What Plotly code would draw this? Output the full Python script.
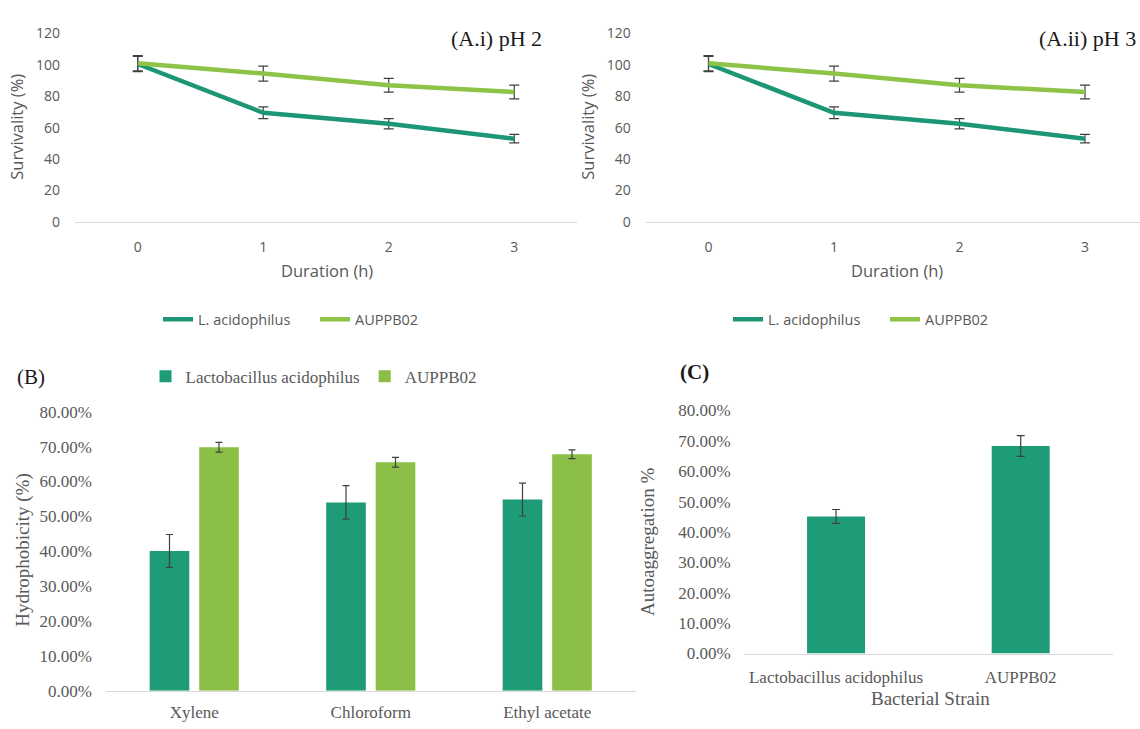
import plotly.graph_objects as go

# ---------------- data ----------------
hours = [0, 1, 2, 3]
la_ph2 = [100.5, 69.5, 62.5, 53.0]
la_ph2_err = [4.9, 3.7, 3.2, 2.7]
au_ph2 = [101.0, 94.4, 87.0, 82.7]
au_ph2_err = [4.9, 4.8, 4.4, 4.4]

la_ph3 = [100.5, 69.5, 62.5, 53.0]
la_ph3_err = [4.9, 3.7, 3.2, 2.7]
au_ph3 = [101.0, 94.4, 87.0, 82.7]
au_ph3_err = [4.9, 4.8, 4.4, 4.4]

solvents = ["Xylene", "Chloroform", "Ethyl acetate"]
hyd_la = [0.401, 0.540, 0.548]
hyd_la_err = [0.047, 0.048, 0.047]
hyd_au = [0.698, 0.655, 0.678]
hyd_au_err = [0.014, 0.014, 0.0125]

strains = ["Lactobacillus acidophilus", "AUPPB02"]
autoagg = [0.451, 0.683]
autoagg_err = [0.023, 0.034]

surv_ticks = [0, 20, 40, 60, 80, 100, 120]

# ---------------- styles ----------------
W, H = 1140, 729
TEAL_LINE = "#1c9674"
GREEN_LINE = "#8dc447"
TEAL_BAR = "#1e9b77"
GREEN_BAR = "#8cbf45"
ERR = "#404040"
GRAY = "#595959"
SANS = "Open Sans"
SERIF = "Liberation Serif"


def px(x):
    return x / W


def py(y):
    return 1 - y / H


fig = go.Figure()

# Panel A.i
fig.add_trace(go.Scatter(x=hours, y=la_ph2, mode="lines", name="L. acidophilus",
                         line=dict(color=TEAL_LINE, width=4.5),
                         error_y=dict(type="data", array=la_ph2_err, color=ERR, thickness=1.2, width=5),
                         xaxis="x", yaxis="y", legend="legend"))
fig.add_trace(go.Scatter(x=hours, y=au_ph2, mode="lines", name="AUPPB02",
                         line=dict(color=GREEN_LINE, width=4.5),
                         error_y=dict(type="data", array=au_ph2_err, color=ERR, thickness=1.2, width=5),
                         xaxis="x", yaxis="y", legend="legend"))
# Panel A.ii
fig.add_trace(go.Scatter(x=hours, y=la_ph3, mode="lines", name="L. acidophilus",
                         line=dict(color=TEAL_LINE, width=4.5),
                         error_y=dict(type="data", array=la_ph3_err, color=ERR, thickness=1.2, width=5),
                         xaxis="x2", yaxis="y2", legend="legend2"))
fig.add_trace(go.Scatter(x=hours, y=au_ph3, mode="lines", name="AUPPB02",
                         line=dict(color=GREEN_LINE, width=4.5),
                         error_y=dict(type="data", array=au_ph3_err, color=ERR, thickness=1.2, width=5),
                         xaxis="x2", yaxis="y2", legend="legend2"))
# Panel B
fig.add_trace(go.Bar(x=solvents, y=hyd_la, name="Lactobacillus acidophilus",
                     marker=dict(color=TEAL_BAR, line=dict(width=0)),
                     error_y=dict(type="data", array=hyd_la_err, color=ERR, thickness=1.2, width=3.5),
                     xaxis="x3", yaxis="y3", legend="legend3"))
fig.add_trace(go.Bar(x=solvents, y=hyd_au, name="AUPPB02",
                     marker=dict(color=GREEN_BAR, line=dict(width=0)),
                     error_y=dict(type="data", array=hyd_au_err, color=ERR, thickness=1.2, width=3.5),
                     xaxis="x3", yaxis="y3", legend="legend3"))
# Panel C
fig.add_trace(go.Bar(x=strains, y=autoagg, name="Autoaggregation",
                     marker=dict(color=TEAL_BAR, line=dict(width=0)),
                     error_y=dict(type="data", array=autoagg_err, color=ERR, thickness=1.2, width=4),
                     width=0.314, showlegend=False,
                     xaxis="x4", yaxis="y4"))

sans_tick = dict(family=SANS, size=14, color=GRAY)
serif_tick = dict(family=SERIF, size=17, color=GRAY)

xA = dict(range=[-0.5, 3.5], tickvals=hours, showgrid=False, zeroline=False,
          showline=True, linecolor="#d9d9d9", linewidth=1, ticks="", tickfont=sans_tick,
          ticklabelstandoff=12, fixedrange=True)
yA = dict(range=[0, 120], tickvals=surv_ticks, showgrid=False, zeroline=False,
          showline=False, ticks="", tickfont=sans_tick, ticklabelstandoff=14, fixedrange=True)

legend_common = dict(orientation="h", yanchor="middle", bgcolor="rgba(0,0,0,0)",
                     itemclick=False, itemdoubleclick=False)

layout = dict(
    width=W, height=H, autosize=False,
    margin=dict(l=0, r=0, t=0, b=0),
    paper_bgcolor="white", plot_bgcolor="white",
    barmode="group", bargap=0.439, bargroupgap=0.2,
    xaxis=dict(xA, domain=[px(75), px(577)], anchor="y"),
    yaxis=dict(yA, domain=[py(218), py(24)], anchor="x"),
    xaxis2=dict(xA, domain=[px(645.75), 1.0], anchor="y2",
                range=[-0.5, (1140 - 708.5) / 125.5]),
    yaxis2=dict(yA, domain=[py(218), py(24)], anchor="x2"),
    xaxis3=dict(type="category", range=[-0.5, 2.5], domain=[px(106), px(635.5)], anchor="y3",
                showgrid=False, zeroline=False, showline=True, linecolor="#d9d9d9", linewidth=1,
                ticks="", tickfont=serif_tick, ticklabelstandoff=6, fixedrange=True),
    yaxis3=dict(range=[0, 0.8], dtick=0.1, tickformat=".2%", domain=[py(700), py(413)], anchor="x3",
                showgrid=False, zeroline=False, showline=False, ticks="", tickfont=serif_tick,
                ticklabelstandoff=13, fixedrange=True),
    xaxis4=dict(type="category", range=[-0.5, 1.5], domain=[px(743.75), px(1113)], anchor="y4",
                showgrid=False, zeroline=False, showline=True, linecolor="#d9d9d9", linewidth=1,
                ticks="", tickfont=serif_tick, ticklabelstandoff=8, fixedrange=True),
    yaxis4=dict(range=[0, 0.8], dtick=0.1, tickformat=".2%", domain=[py(661.7), py(411.7)], anchor="x4",
                showgrid=False, zeroline=False, showline=False, ticks="", tickfont=serif_tick,
                ticklabelstandoff=12, fixedrange=True),
    legend=dict(legend_common, x=px(158), xanchor="left", y=py(318),
                entrywidth=112, entrywidthmode="pixels",
                font=dict(family=SANS, size=14.5, color=GRAY)),
    legend2=dict(legend_common, x=px(728), xanchor="left", y=py(318),
                 entrywidth=112, entrywidthmode="pixels",
                 font=dict(family=SANS, size=14.5, color=GRAY)),
    legend3=dict(legend_common, x=px(314), xanchor="center", y=py(377),
                 font=dict(family=SERIF, size=17, color=GRAY)),
    showlegend=True,
)
fig.update_layout(**layout)


def ann(text, x, y, font, xanchor="center", angle=0):
    fig.add_annotation(text=text, x=px(x), y=py(y), xref="paper", yref="paper",
                       xanchor=xanchor, yanchor="middle", showarrow=False,
                       textangle=angle, font=font)


title_font = dict(family=SERIF, size=22, color="#1a1a1a")
axis_sans = dict(family=SANS, size=16.5, color=GRAY)
axis_serif = dict(family=SERIF, size=19, color=GRAY)

ann("(A.i) pH 2", 449, 29, title_font, xanchor="left")
ann("(A.ii) pH 3", 1037, 29, title_font, xanchor="left")
ann("Survivality (%)", 17, 120, axis_sans, angle=-90)
ann("Survivality (%)", 588, 120, axis_sans, angle=-90)
ann("Duration (h)", 327, 268, axis_sans)
ann("Duration (h)", 897, 268, axis_sans)
ann("(B)", 15, 377, dict(family=SERIF, size=21, color="#1a1a1a"), xanchor="left")
ann("Hydrophobicity (%)", 23, 555, axis_serif, angle=-90)
ann("<b>(C)</b>", 678, 372, dict(family=SERIF, size=21, color="#1a1a1a"), xanchor="left")
ann("Autoaggregation %", 648, 547, axis_serif, angle=-90)
ann("Bacterial Strain", 930, 708, axis_serif)

fig.write_html(
    "out.html",
    config={"displayModeBar": False},
    post_script="document.body.style.margin='0';document.body.style.padding='0';"
                "document.body.style.overflow='hidden';",
)
